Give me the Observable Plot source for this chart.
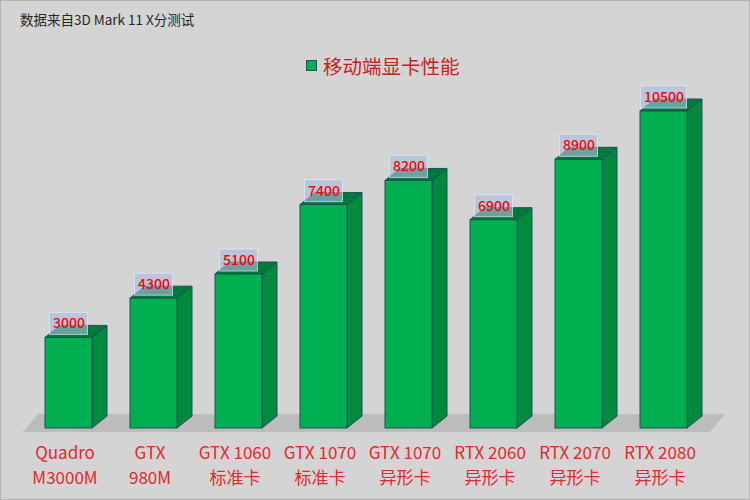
<!DOCTYPE html>
<html><head><meta charset="utf-8">
<script src="https://cdn.jsdelivr.net/npm/d3@7"></script>
<script src="https://cdn.jsdelivr.net/npm/@observablehq/plot@0.6"></script>
<style>
body{margin:0;background:#d4d4d4;}
#wrap{position:relative;width:750px;height:500px;background:#d4d4d4;overflow:hidden;font-family:"Noto Sans CJK SC","Noto Sans",sans-serif;box-shadow:inset 0 0 0 1px #b3b3b3;}
#note{position:absolute;left:20px;top:9px;font-size:13.5px;color:#262626;white-space:nowrap;}
#legend{position:absolute;left:306px;top:51px;font-size:19.5px;color:#c9211e;display:flex;align-items:center;white-space:nowrap;}
#legend .sw{width:9px;height:9px;background:#00b050;border:1px solid #24505a;margin-right:6px;}
#chart{position:absolute;left:0;top:0;}
</style></head>
<body>
<div id="wrap">
  <div id="chart"></div>
  <div id="note">数据来自3D Mark 11 X分测试</div>
  <div id="legend"><span class="sw"></span><span>移动端显卡性能</span></div>
</div>
<script>
const categories = ["Quadro\nM3000M","GTX\n980M","GTX 1060\n标准卡","GTX 1070\n标准卡","GTX 1070\n异形卡","RTX 2060\n异形卡","RTX 2070\n异形卡","RTX 2080\n异形卡"];
const scores = [3000,4300,5100,7400,8200,6900,8900,10500];
const data = categories.map((c, i) => ({cat: c, score: scores[i]}));

const DX = 15, DY = -12;
const FRONT = "#00b050", SIDE = "#008a3e", TOP = "#007a3a", EDGE = "#1f4e5c";

function bandw(x) { return x.bandwidth ? x.bandwidth() : 47; }

function depthFaces(index, scales, values, dimensions) {
  const x = scales.x, y = scales.y, bw = bandw(x);
  const g = d3.create("svg:g");
  const r = x.range ? x.range() : [dimensions.marginLeft, dimensions.width - dimensions.marginRight];
  const y0 = y(0);
  const fb = y0 + 4, ft = y0 - 14;
  g.append("path")
    .attr("d", `M${r[0]+16},${fb}L${r[1]-15},${fb}L${r[1]},${ft}L${r[0]+31},${ft}Z`)
    .attr("fill", "#bdbcbd");
  for (const d of data) {
    const x0 = x(d.cat), x1 = x0 + bw, yt = y(d.score);
    g.append("path")
      .attr("d", `M${x1},${y0}L${x1+DX},${y0+DY}L${x1+DX},${yt+DY}L${x1},${yt}Z`)
      .attr("fill", SIDE).attr("stroke", EDGE).attr("stroke-width", 1).attr("stroke-linejoin", "round");
    g.append("path")
      .attr("d", `M${x0},${yt}L${x0+DX},${yt+DY}L${x1+DX},${yt+DY}L${x1},${yt}Z`)
      .attr("fill", TOP).attr("stroke", EDGE).attr("stroke-width", 1).attr("stroke-linejoin", "round");
  }
  return g.node();
}

function labelBoxes(index, scales) {
  const x = scales.x, y = scales.y, bw = bandw(x);
  const g = d3.create("svg:g");
  for (const d of data) {
    const cx = x(d.cat) + bw / 2, cy = y(d.score) - 14;
    const w = 8 * String(d.score).length + 6, h = 22;
    g.append("rect")
      .attr("x", cx - w / 2).attr("y", cy - h / 2).attr("width", w).attr("height", h)
      .attr("fill", "#a9bcdf").attr("fill-opacity", 0.62)
      .attr("stroke", "#e4e9f3").attr("stroke-opacity", 0.7).attr("stroke-width", 1);
  }
  return g.node();
}

const chart = Plot.plot({
  width: 750,
  height: 500,
  marginLeft: 7,
  marginRight: 25,
  marginTop: 111,
  marginBottom: 72,
  style: {background: "transparent", fontFamily: "'Noto Sans CJK SC','Noto Sans',sans-serif", overflow: "visible"},
  x: {type: "band", domain: categories, padding: 0.447},
  y: {domain: [0, 10500], axis: null},
  marks: [
    depthFaces,
    Plot.barY(data, {x: "cat", y: "score", fill: FRONT, stroke: EDGE, strokeWidth: 1}),
    labelBoxes,
    Plot.text(data, {x: "cat", y: "score", text: d => String(d.score), dy: -14, fill: "#ff0000", fontSize: 14, fontWeight: 500}),
    Plot.axisX({tickSize: 0, tickPadding: 13, fontSize: 17, color: "#e8262d", lineHeight: 1.47, dx: -4, label: null})
  ]
});
document.getElementById("chart").appendChild(chart);
</script>
</body></html>
